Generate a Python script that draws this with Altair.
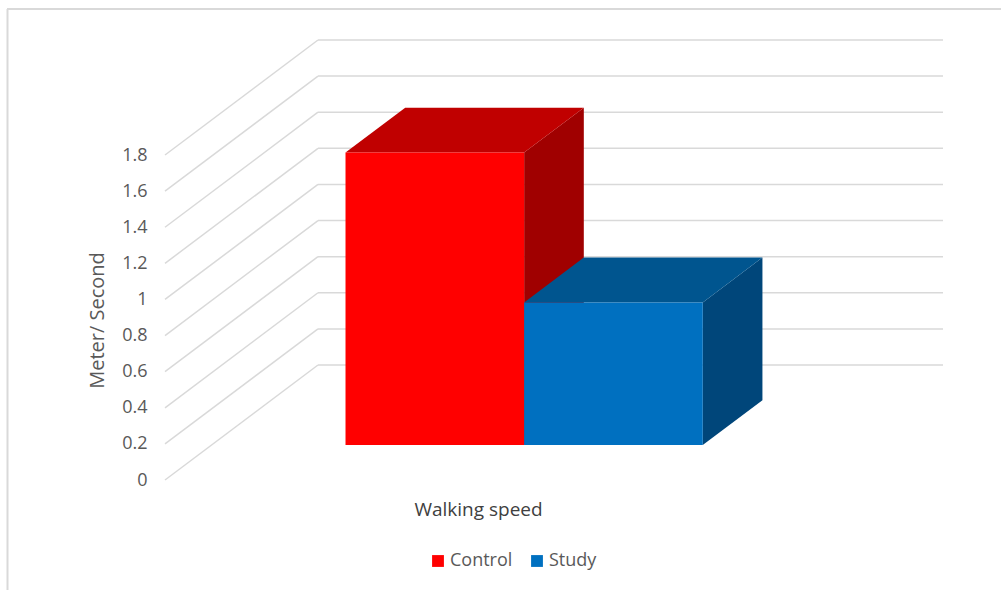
import altair as alt
import pandas as pd

# ---- data -------------------------------------------------------------
categories = ["Control", "Study"]
speeds = [1.62, 0.79]  # walking speed, metre per second
tick_values = [0, 0.2, 0.4, 0.6, 0.8, 1.0, 1.2, 1.4, 1.6, 1.8]

front_colors = ["#FF0000", "#0070C0"]
top_colors = ["#C00000", "#00558F"]
side_colors = ["#A00000", "#00467A"]

# ---- oblique projection of the 3-D box --------------------------------
# x runs in category-width units (front floor edge = 0..1),
# y in metre/second; the floor depth is shown as a shift up and right.
DEPTH_X = 0.2448
DEPTH_Y = 0.637
GAP_FRONT = 0.304   # bar front sits this far back into the floor
BAR_DEPTH = 0.39    # bar depth as a share of the floor depth
BAR_LEFT = 0.2144
BAR_WIDTH = 0.2858
X_MAX = 1 + DEPTH_X
Y_TOP = tick_values[-1] + DEPTH_Y

front_rows, top_rows, side_rows = [], [], []
for i, (name, v) in enumerate(zip(categories, speeds)):
    sx, sy = GAP_FRONT * DEPTH_X, GAP_FRONT * DEPTH_Y
    bx, by = BAR_DEPTH * DEPTH_X, BAR_DEPTH * DEPTH_Y
    x0 = BAR_LEFT + i * BAR_WIDTH + sx
    x1 = x0 + BAR_WIDTH
    base, top = sy, v + sy
    front_rows.append({"series": name, "x": x0, "x2": x1, "base": base, "top": top})
    for px, lo, hi in [
        (x0, top, top),
        (x0 + bx, top, top + by),
        (x1, top, top + by),
        (x1 + bx, top + by, top + by),
    ]:
        top_rows.append({"series": name, "x": px, "lo": lo, "hi": hi})
    for px, lo, hi in [(x1, base, top), (x1 + bx, base + by, top + by)]:
        side_rows.append({"series": name, "x": px, "lo": lo, "hi": hi})

front_df = pd.DataFrame(front_rows)
top_df = pd.DataFrame(top_rows)
side_df = pd.DataFrame(side_rows)

wall_df = pd.DataFrame({"t": tick_values})
wall_df["back"] = wall_df["t"] + DEPTH_Y
wall_df["x_front"] = 0.0
wall_df["x_back"] = DEPTH_X
wall_df["x_end"] = X_MAX

FONT = "Open Sans"
GRID = "#D9D9D9"

xs = alt.Scale(domain=[0, X_MAX], nice=False, zero=False)
ys = alt.Scale(domain=[0, Y_TOP], nice=False, zero=False)

x_axis = alt.Axis(
    title="Walking speed",
    labels=False, ticks=False, domain=False, grid=False,
    titleFont=FONT, titleFontSize=19, titleFontWeight="normal",
    titleColor="#404040",
    titleX=313, titleY=29, titleAlign="center", titleBaseline="middle",
)
y_axis = alt.Axis(
    title="Meter/ Second",
    values=tick_values, format="~g",
    ticks=False, domain=False, grid=False,
    labelPadding=18, labelFont=FONT, labelFontSize=18, labelColor="#595959",
    titleFont=FONT, titleFontSize=20, titleFontWeight="normal",
    titleColor="#595959", titleAngle=270,
    titleX=-68, titleY=280, titleAlign="center", titleBaseline="middle",
)

# back-wall gridlines
grid_back = alt.Chart(wall_df).mark_rule(color=GRID, strokeWidth=1.5).encode(
    x=alt.X("x_back:Q", scale=xs, axis=x_axis),
    x2="x_end:Q",
    y=alt.Y("back:Q", scale=ys, axis=y_axis),
)
# side-wall gridlines running from the front edge to the back wall
grid_side = alt.Chart(wall_df).mark_rule(color=GRID, strokeWidth=1.5).encode(
    x=alt.X("x_front:Q", scale=xs, axis=x_axis),
    x2="x_back:Q",
    y=alt.Y("t:Q", scale=ys, axis=y_axis),
    y2="back:Q",
)

sides = alt.Chart(side_df).mark_area(strokeWidth=0).encode(
    x=alt.X("x:Q", scale=xs, axis=x_axis),
    y=alt.Y("lo:Q", scale=ys, axis=y_axis, stack=None),
    y2="hi:Q",
    color=alt.Color("series:N", scale=alt.Scale(domain=categories, range=side_colors), legend=None),
    detail="series:N",
)
tops = alt.Chart(top_df).mark_area(strokeWidth=0).encode(
    x=alt.X("x:Q", scale=xs, axis=x_axis),
    y=alt.Y("lo:Q", scale=ys, axis=y_axis, stack=None),
    y2="hi:Q",
    color=alt.Color("series:N", scale=alt.Scale(domain=categories, range=top_colors), legend=None),
    detail="series:N",
)
fronts = alt.Chart(front_df).mark_rect(strokeWidth=0).encode(
    x=alt.X("x:Q", scale=xs, axis=x_axis),
    x2="x2:Q",
    y=alt.Y("top:Q", scale=ys, axis=y_axis),
    y2="base:Q",
    color=alt.Color(
        "series:N",
        scale=alt.Scale(domain=categories, range=front_colors),
        legend=alt.Legend(
            title=None, orient="none", direction="horizontal",
            legendX=264, legendY=512, padding=0,
            symbolType="square", symbolSize=140, symbolStrokeWidth=0,
            labelFont=FONT, labelFontSize=18, labelColor="#595959",
            labelOffset=3, columnPadding=15,
        ),
    ),
)

# outer chart frame (top and left edges)
frame_df = pd.DataFrame({"edge": ["frame"]})
frame_top = alt.Chart(frame_df).mark_rule(color=GRID, strokeWidth=2).encode(
    x=alt.value(-158), x2=alt.value(836), y=alt.value(-31)
)
frame_left = alt.Chart(frame_df).mark_rule(color=GRID, strokeWidth=2).encode(
    x=alt.value(-157.5), y=alt.value(-31), y2=alt.value(550)
)

chart = (
    alt.layer(frame_top, frame_left, grid_back, grid_side, sides, tops, fronts)
    .resolve_scale(color="independent")
    .properties(
        width=778,
        height=440,
        background="white",
        autosize=alt.AutoSizeParams(type="none"),
        padding={"left": 165, "top": 40, "right": 58, "bottom": 110},
    )
    .configure_view(stroke="transparent", strokeWidth=0)
)

chart.save("out.html", embed_options={"renderer": "svg", "actions": False})
